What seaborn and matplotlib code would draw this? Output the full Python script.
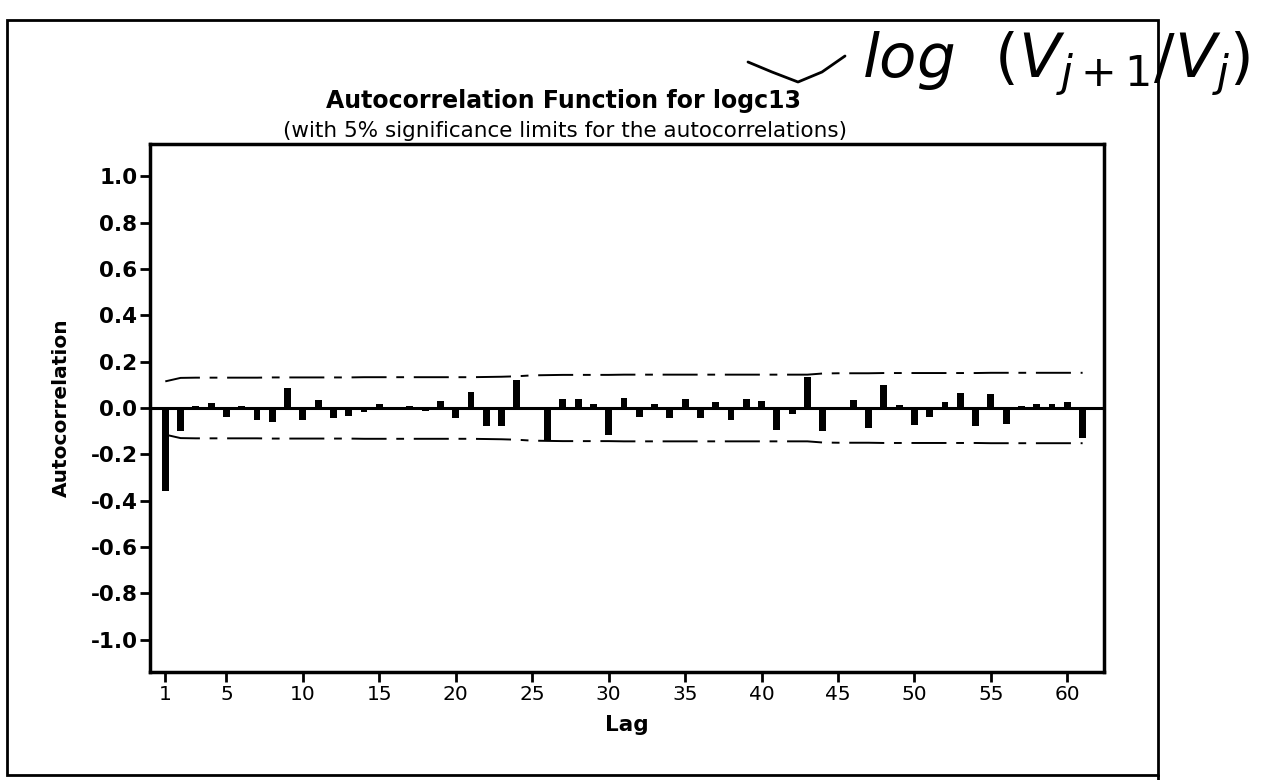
import numpy as np
import pandas as pd
import matplotlib
matplotlib.use("Agg")
import matplotlib.pyplot as plt
import seaborn as sns
from matplotlib.lines import Line2D
from matplotlib.patches import Rectangle

# ---------------- data ----------------
lags = list(range(1, 62))
acf = [-0.36, -0.10, 0.01, 0.022, -0.04, 0.01, -0.05, -0.06, 0.085, -0.05,
       0.035, -0.045, -0.035, -0.017, 0.018, -0.01, 0.007, -0.014, 0.03, -0.042,
       0.068, -0.078, -0.078, 0.12, -0.004, -0.138, 0.04, 0.039, 0.018, -0.115,
       0.045, -0.039, 0.019, -0.043, 0.04, -0.043, 0.026, -0.05, 0.04, 0.03,
       -0.096, -0.026, 0.135, -0.10, 0.004, 0.033, -0.085, 0.10, 0.012, -0.075,
       -0.04, 0.028, 0.066, -0.076, 0.059, -0.067, 0.007, 0.018, 0.018, 0.026, -0.13]
# 5% significance limits (magnitude) read per lag
limits = [0.115, 0.130, 0.131, 0.131, 0.131, 0.131, 0.131, 0.132, 0.132, 0.132,
          0.132, 0.132, 0.132, 0.133, 0.133, 0.133, 0.133, 0.133, 0.133, 0.133,
          0.133, 0.134, 0.135, 0.137, 0.141, 0.142, 0.143, 0.143, 0.143, 0.143,
          0.144, 0.144, 0.144, 0.144, 0.144, 0.144, 0.144, 0.144, 0.144, 0.144,
          0.144, 0.144, 0.144, 0.149, 0.150, 0.150, 0.150, 0.151, 0.151, 0.151,
          0.151, 0.151, 0.151, 0.151, 0.152, 0.152, 0.152, 0.152, 0.152, 0.152, 0.152]
xtick_vals = [1, 5, 10, 15, 20, 25, 30, 35, 40, 45, 50, 55, 60]
ytick_vals = [1.0, 0.8, 0.6, 0.4, 0.2, 0.0, -0.2, -0.4, -0.6, -0.8, -1.0]

title = "Autocorrelation Function for logc13"
subtitle = "(with 5% significance limits for the autocorrelations)"
xlabel = "Lag"
ylabel = "Autocorrelation"
handwritten = r"$\mathit{log}\ \ (V_{j+1}/V_j)$"

df = pd.DataFrame({"lag": lags, "acf": acf, "upper": limits,
                   "lower": [-v for v in limits]})

# ---------------- figure ----------------
sns.set_theme(style="white")
plt.rcParams["font.family"] = ["DejaVu Sans"]
plt.rcParams["axes.unicode_minus"] = False
plt.rcParams["text.color"] = "black"
plt.rcParams["axes.labelcolor"] = "black"

W, H = 1282, 780
fig = plt.figure(figsize=(W / 100, H / 100), dpi=100)
fig.patch.set_facecolor("white")

def fx(px):
    return px / W

def fy(py):
    return 1 - py / H

ax = fig.add_axes([fx(150), fy(672), fx(1104) - fx(150), fy(144) - fy(672)])

sns.barplot(data=df, x="lag", y="acf", native_scale=True, color="black",
            width=0.45, linewidth=0, errorbar=None, ax=ax, zorder=3)
ax.axhline(0, color="black", lw=2.2, zorder=4)

dash = (0, (18, 5, 4, 5))
sns.lineplot(data=df, x="lag", y="upper", color="black", lw=1.4,
             linestyle=dash, ax=ax)
sns.lineplot(data=df, x="lag", y="lower", color="black", lw=1.4,
             linestyle=dash, ax=ax)

ax.set_xlim(0.0, 62.4)
ax.set_ylim(-1.14, 1.14)
ax.set_xticks(xtick_vals)
ax.set_xticklabels([str(v) for v in xtick_vals], fontsize=14.5)
ax.set_yticks(ytick_vals)
ax.set_yticklabels([f"{v:.1f}" for v in ytick_vals], fontsize=15.5,
                   fontweight="bold")
ax.tick_params(axis="both", direction="out", length=7, width=2,
               color="black", labelcolor="black", pad=2,
               bottom=True, left=True)
for s in ax.spines.values():
    s.set_color("black")
    s.set_linewidth(2.5)
ax.set_xlabel(xlabel, fontsize=15.5, fontweight="bold", labelpad=8,
              color="black")
ax.set_ylabel(ylabel, fontsize=14.5, fontweight="bold", labelpad=14,
              color="black")
ax.grid(False)

# titles
fig.text(fx(563), fy(101), title, ha="center", va="center",
         fontsize=17, fontweight="bold", color="black")
fig.text(fx(565), fy(131), subtitle, ha="center", va="center",
         fontsize=15.5, color="black")

# outer graph frame
fig.add_artist(Rectangle((fx(7), fy(775)), fx(1158) - fx(7), fy(20) - fy(775),
                         transform=fig.transFigure, fill=False,
                         edgecolor="black", lw=2))
fig.add_artist(Line2D([fx(1158), fx(1158)], [fy(775), fy(780)],
                      transform=fig.transFigure, color="black", lw=2))

# handwritten annotation
fig.text(fx(1056), fy(64), handwritten, ha="center", va="center",
         fontsize=44, color="black")
# strike-out stroke over "13"
fig.add_artist(Line2D([fx(748), fx(772), fx(798), fx(822), fx(845)],
                      [fy(62), fy(72), fy(82), fy(72), fy(56)],
                      transform=fig.transFigure, color="black", lw=2))

fig.savefig("out.png", dpi=100, facecolor="white")
